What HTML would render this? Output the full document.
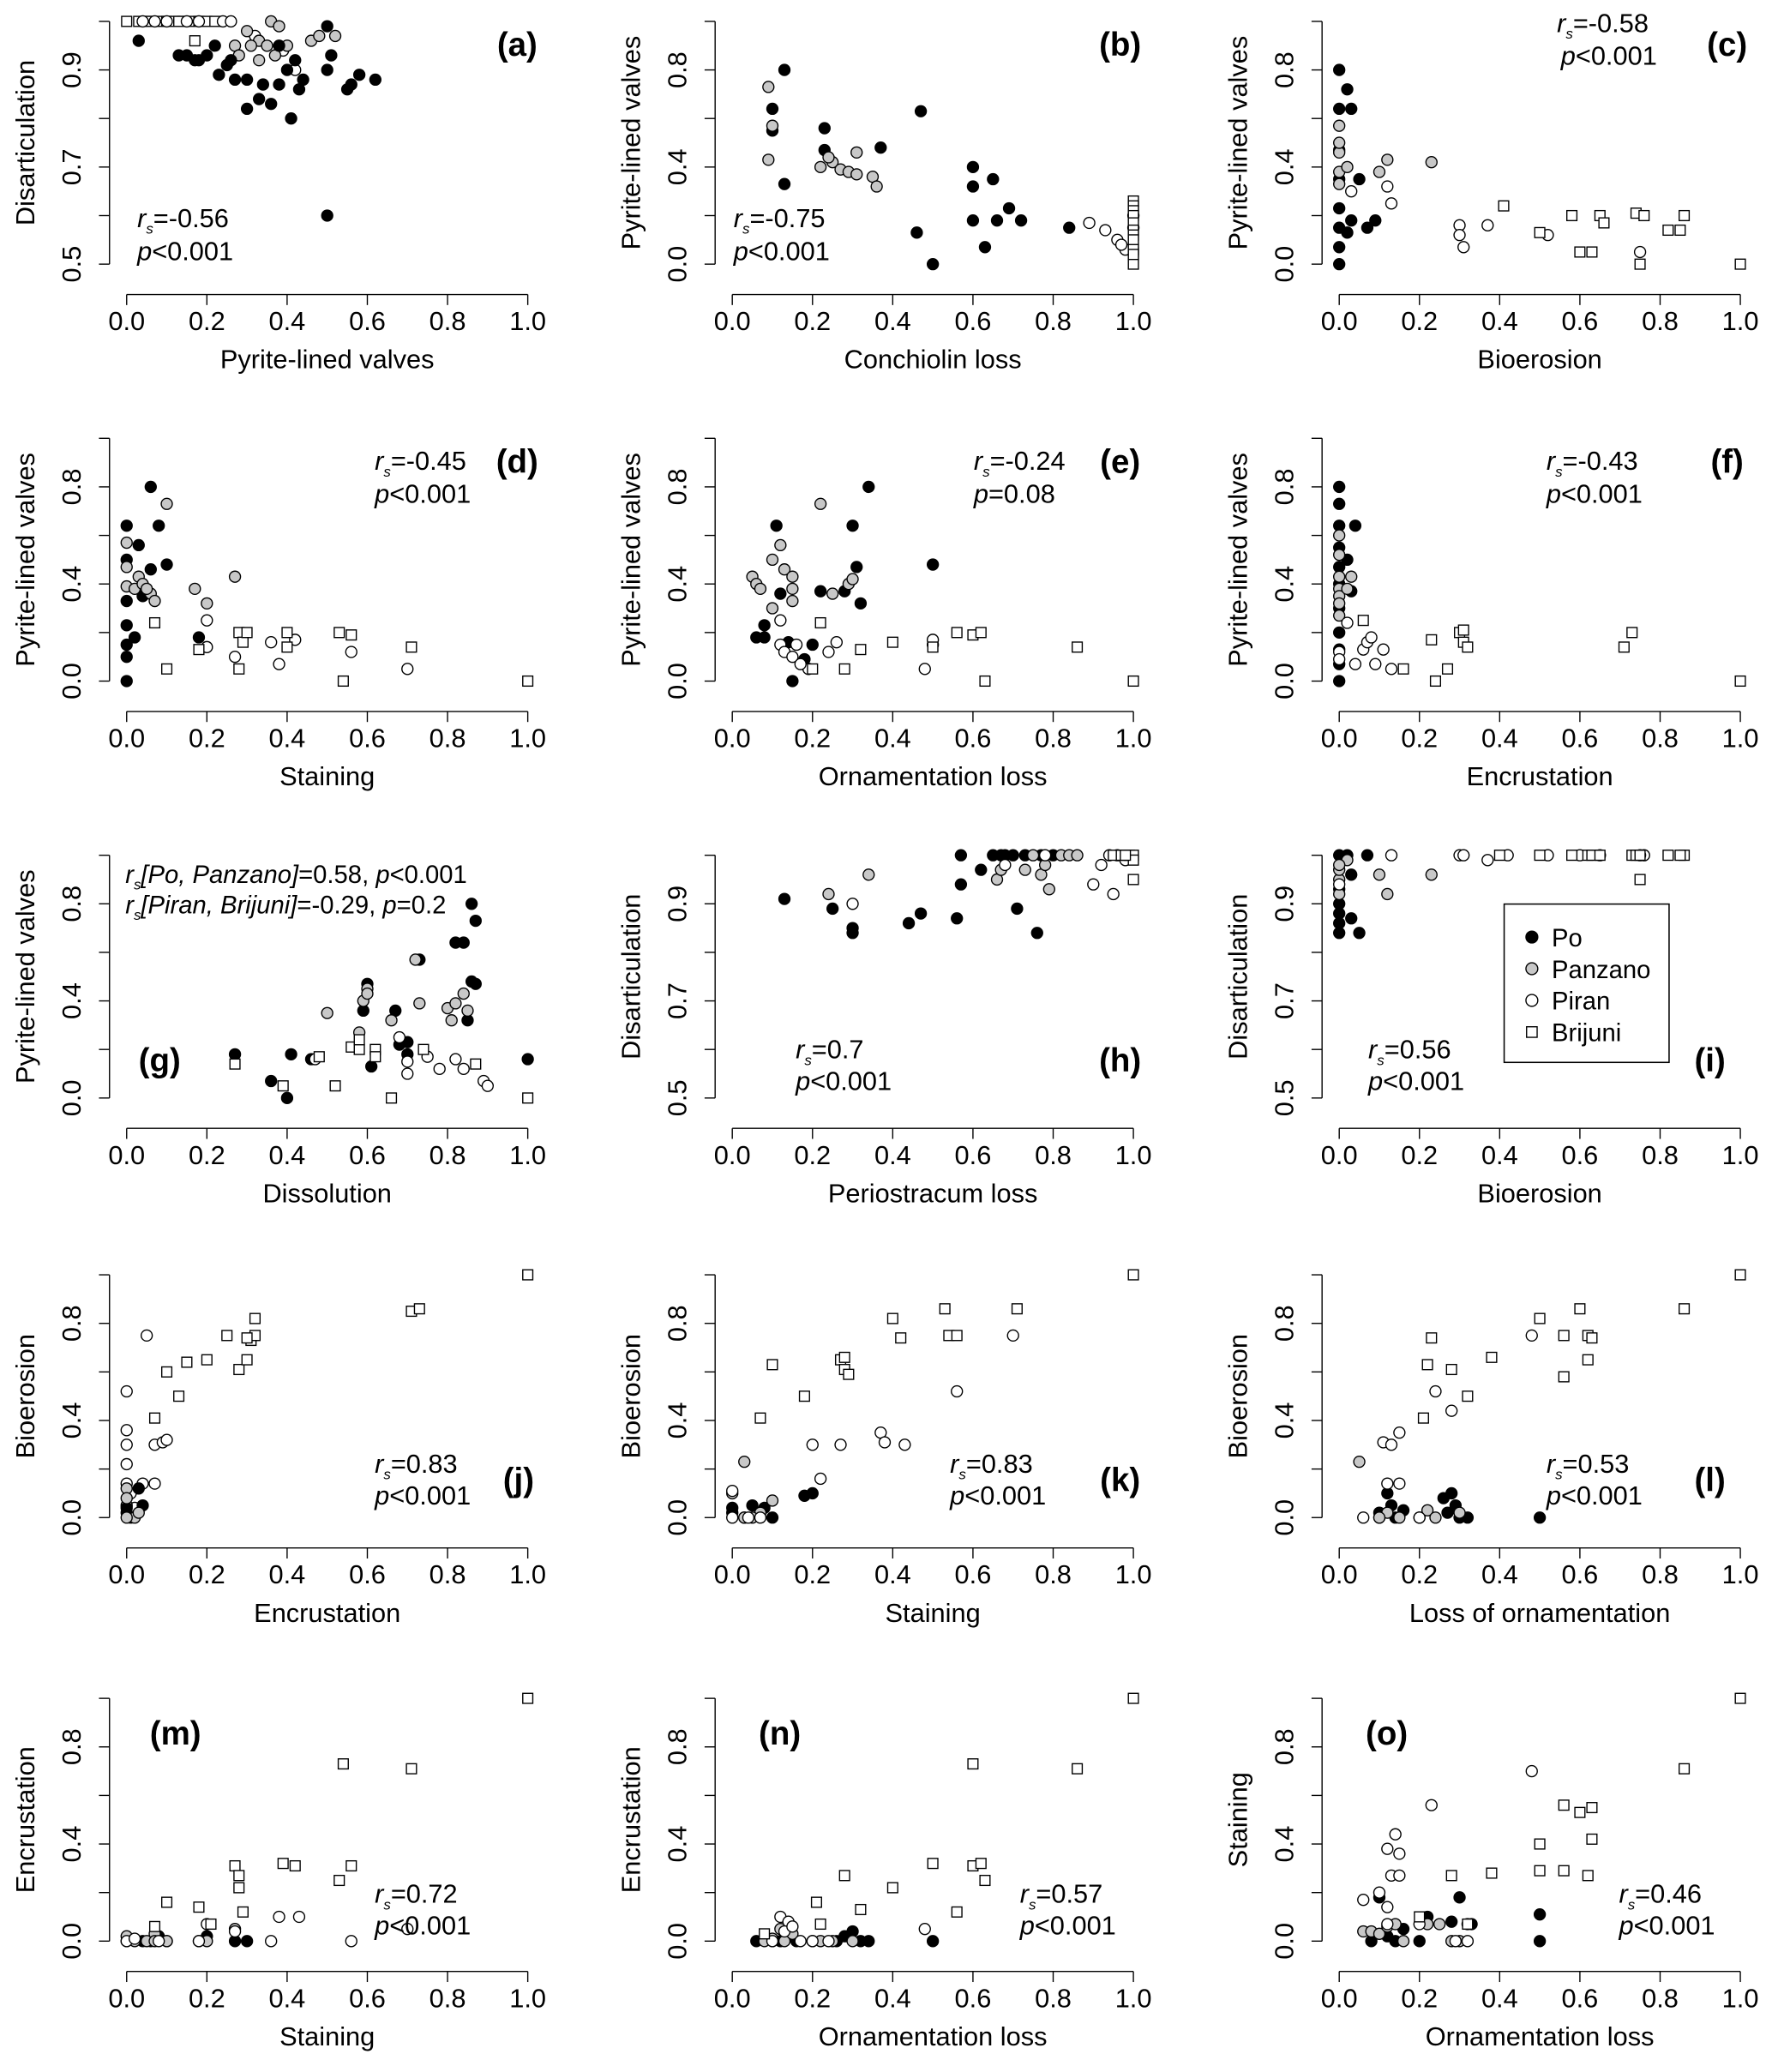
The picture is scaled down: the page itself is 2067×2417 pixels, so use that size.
<!DOCTYPE html>
<html><head><meta charset="utf-8"><style>
html,body{margin:0;padding:0;background:#fff}
svg{display:block}
text{font-family:"Liberation Sans",sans-serif;fill:#000}
</style></head><body>
<svg id="s" xmlns="http://www.w3.org/2000/svg" width="2067" height="2417" viewBox="0 0 1343 1570"></svg>
<script>
const S=document.getElementById('s');let h='';
const cols=[96,555,1015],rows=[200,516,832,1150,1471],W=304,H=184;
function T(x,y,s,o){o=o||{};h+=`<text x="${x}" y="${y}" font-size="${o.fs||20}" ${o.a?`text-anchor="${o.a}"`:''} ${o.b?'font-weight="bold"':''} ${o.tr?`transform="${o.tr}"`:''}>${s}</text>`;}
function rs(x,y,v){h+=`<text x="${x}" y="${y}" font-size="20"><tspan font-style="italic">r</tspan><tspan font-style="italic" font-size="11" dy="5">s</tspan><tspan dy="-5">=${v}</tspan></text>`;}
function pv(x,y,v){h+=`<text x="${x}" y="${y}" font-size="20"><tspan font-style="italic">p</tspan>${v}</text>`;}
function panel(c,r,xl,yl,ydis,pts,lab,lp){
 const x0=cols[c],b=rows[r],ax=x0-13,ay=b+23;
 h+=`<g stroke="#000" stroke-width="0.9" fill="none">`;
 h+=`<line x1="${x0}" y1="${ay}" x2="${x0+W}" y2="${ay}"/>`;
 for(let i=0;i<=5;i++){const x=x0+i*W/5;h+=`<line x1="${x}" y1="${ay}" x2="${x}" y2="${ay+8}"/>`;}
 h+=`<line x1="${ax}" y1="${b}" x2="${ax}" y2="${b-H}"/>`;
 const nt=ydis?6:6;
 for(let i=0;i<nt;i++){const y=b-i*H/5;h+=`<line x1="${ax}" y1="${y}" x2="${ax-8}" y2="${y}"/>`;}
 h+=`</g>`;
 for(let i=0;i<=5;i++)T(x0+i*W/5,b+50,(i/5).toFixed(1),{a:'middle'});
 const yls=ydis?[[0,'0.5'],[2,'0.7'],[4,'0.9']]:[[0,'0.0'],[2,'0.4'],[4,'0.8']];
 yls.forEach(([i,s])=>{const y=b-i*H/5;T(x0-35,y,s,{a:'middle',tr:`rotate(-90 ${x0-35} ${y})`});});
 T(x0+152,b+79,xl,{a:'middle'});
 T(x0-70,b-92,yl,{a:'middle',tr:`rotate(-90 ${x0-70} ${b-92})`});
 let out='';
 pts.forEach(([t,arr])=>{for(let i=0;i<arr.length;i+=2){let px=x0+arr[i]*W,v=arr[i+1];if(ydis)v=(v-0.5)/0.5;let py=b-v*H;
  if(t=='s')out+=`<rect x="${px-3.8}" y="${py-3.8}" width="7.6" height="7.6" fill="#fff" stroke="#000" stroke-width="0.9"/>`;
  else out+=`<circle cx="${px}" cy="${py}" r="4.2" fill="${t=='b'?'#000':t=='g'?'#c8c8c8':'#fff'}" stroke="#000" stroke-width="0.9"/>`;}});
 h+=out;
 T(lp[0],lp[1],lab,{b:1,fs:25,a:'middle'});
}
// (a)
panel(0,0,'Pyrite-lined valves','Disarticulation',1,[
['s',[0,1,.03,1,.06,1,.08,1,.1,1,.12,1,.14,1,.16,1,.18,1,.2,1,.22,1,.17,.96,.13,1,.05,1]],
['w',[.04,1,.07,1,.1,1,.15,1,.18,1,.24,1,.26,1,.39,.94,.42,.9,.32,.97]],
['g',[.3,.98,.33,.96,.35,.95,.36,1,.38,.99,.33,.92,.4,.95,.46,.96,.48,.97,.52,.97,.27,.95,.37,.93,.31,.95,.28,.93]],
['b',[.03,.96,.13,.93,.15,.93,.17,.92,.18,.92,.2,.93,.22,.95,.23,.89,.25,.91,.26,.92,.27,.88,.3,.82,.3,.88,.33,.84,.34,.87,.36,.83,.38,.87,.4,.9,.41,.8,.43,.86,.44,.88,.5,.99,.5,.9,.51,.93,.55,.86,.56,.87,.58,.89,.62,.88,.5,.6,.38,.95,.42,.92]]],'(a)',[392,42]);
rs(104,172,'-0.56');pv(104,197,'&lt;0.001');
// (b)
panel(1,0,'Conchiolin loss','Pyrite-lined valves',0,[
['b',[.13,.8,.1,.64,.1,.55,.13,.33,.23,.56,.23,.47,.37,.48,.47,.63,.46,.13,.5,0,.6,.4,.6,.18,.63,.07,.65,.35,.66,.18,.69,.23,.72,.18,.84,.15,.6,.32]],
['g',[.09,.73,.1,.57,.09,.43,.22,.4,.25,.42,.27,.39,.29,.38,.31,.46,.31,.37,.35,.36,.36,.32,.24,.44]],
['w',[.89,.17,.93,.14,.96,.1,.98,.06,1,.2,1,.15,.97,.08]],
['s',[1,.26,1,.24,1,.22,1,.2,1,.17,1,.14,1,.12,1,.1,1,.05,1,0,1,.06,1,.04]]],'(b)',[849,42]);
rs(556,172,'-0.75');pv(556,197,'&lt;0.001');
// (c)
panel(2,0,'Bioerosion','Pyrite-lined valves',0,[
['b',[0,.8,0,.64,0,.47,0,.35,0,.23,0,.15,0,.07,0,0,.02,.72,.03,.64,.05,.35,.03,.18,.02,.13,.07,.15,.09,.18]],
['g',[0,.57,0,.46,0,.38,0,.33,.02,.4,.1,.38,.12,.43,.23,.42,0,.5]],
['w',[.12,.32,.13,.25,.3,.16,.3,.12,.31,.07,.37,.16,.52,.12,.75,.05,.03,.3]],
['s',[.41,.24,.5,.13,.58,.2,.6,.05,.63,.05,.65,.2,.66,.17,.74,.21,.76,.2,.75,0,.82,.14,.85,.14,.86,.2,1,0]]],'(c)',[1309,42]);
rs(1180,24,'-0.58');pv(1183,49,'&lt;0.001');
// (d)
panel(0,1,'Staining','Pyrite-lined valves',0,[
['b',[0,.64,0,.5,0,.33,0,.23,0,.15,0,.1,0,0,.02,.18,.03,.56,.04,.35,.06,.8,.06,.46,.08,.64,.1,.48,.18,.18]],
['g',[0,.57,0,.47,0,.39,.02,.38,.03,.43,.04,.4,.06,.36,.07,.33,.1,.73,.17,.38,.2,.32,.27,.43,.05,.38]],
['w',[.2,.25,.2,.14,.27,.1,.36,.16,.38,.07,.42,.17,.56,.12,.7,.05]],
['s',[.07,.24,.1,.05,.18,.13,.28,.2,.29,.16,.28,.05,.3,.2,.4,.2,.4,.14,.53,.2,.56,.19,.54,0,.71,.14,1,0]]],'(d)',[392,358]);
rs(284,356,'-0.45');pv(284,381,'&lt;0.001');
// (e)
panel(1,1,'Ornamentation loss','Pyrite-lined valves',0,[
['b',[.08,.23,.08,.18,.06,.18,.11,.64,.12,.36,.14,.16,.15,0,.18,.09,.2,.15,.22,.37,.28,.37,.3,.64,.31,.47,.32,.32,.34,.8,.5,.48,.5,.15]],
['g',[.05,.43,.06,.4,.07,.38,.1,.5,.12,.56,.13,.46,.15,.38,.15,.43,.22,.73,.25,.36,.29,.4,.3,.42,.1,.3,.15,.33]],
['w',[.12,.25,.12,.15,.13,.12,.15,.1,.16,.15,.19,.05,.24,.12,.26,.16,.48,.05,.5,.17,.17,.07]],
['s',[.22,.24,.2,.05,.28,.05,.32,.13,.4,.16,.5,.14,.56,.2,.6,.19,.62,.2,.63,0,.86,.14,1,0]]],'(e)',[849,358]);
rs(738,356,'-0.24');pv(738,381,'=0.08');
// (f)
panel(2,1,'Encrustation','Pyrite-lined valves',0,[
['b',[0,.8,0,.73,0,.64,0,.55,0,.47,0,.4,0,.3,0,.2,0,.13,0,.07,0,0,.04,.64,.02,.5,.03,.37]],
['g',[0,.6,0,.52,0,.43,0,.38,0,.35,0,.32,0,.27,.03,.43,.02,.38]],
['w',[0,.12,0,.09,.02,.24,.06,.13,.07,.16,.08,.18,.09,.07,.11,.13,.13,.05,.04,.07]],
['s',[.06,.25,.16,.05,.23,.17,.24,0,.27,.05,.3,.2,.31,.16,.32,.14,.31,.21,.71,.14,.73,.2,1,0]]],'(f)',[1309,358]);
rs(1172,356,'-0.43');pv(1172,381,'&lt;0.001');
// (g)
panel(0,2,'Dissolution','Pyrite-lined valves',0,[
['b',[.27,.18,.36,.07,.4,0,.41,.18,.46,.16,.59,.36,.6,.47,.61,.13,.67,.36,.68,.22,.7,.18,.73,.57,.82,.64,.84,.64,.85,.32,.86,.8,.87,.73,.87,.47,.86,.48,1,.16,.7,.23]],
['g',[.5,.35,.58,.27,.59,.4,.6,.45,.6,.43,.66,.32,.72,.57,.73,.39,.8,.37,.81,.32,.82,.39,.84,.43,.85,.36]],
['w',[.47,.16,.68,.25,.7,.15,.7,.1,.78,.12,.82,.16,.84,.12,.89,.07,.9,.05,.75,.17]],
['s',[.27,.14,.39,.05,.48,.17,.52,.05,.56,.21,.58,.2,.58,.24,.62,.2,.62,.17,.66,0,.74,.2,.87,.14,1,0]]],'(g)',[121,812]);
h+=`<text x="95" y="669" font-size="19"><tspan font-style="italic">r</tspan><tspan font-style="italic" font-size="11" dy="5">s</tspan><tspan dy="-5" font-style="italic">[Po, Panzano]</tspan>=0.58, <tspan font-style="italic">p</tspan>&lt;0.001</text>`;
h+=`<text x="95" y="692" font-size="19"><tspan font-style="italic">r</tspan><tspan font-style="italic" font-size="11" dy="5">s</tspan><tspan dy="-5" font-style="italic">[Piran, Brijuni]</tspan>=-0.29, <tspan font-style="italic">p</tspan>=0.2</text>`;
// (h)
panel(1,2,'Periostracum loss','Disarticulation',1,[
['b',[.13,.91,.25,.89,.3,.85,.3,.84,.44,.86,.47,.88,.56,.87,.57,1,.57,.94,.65,1,.67,1,.68,1,.7,1,.71,.89,.73,1,.76,.84,.77,1,.8,1,.62,.97]],
['g',[.24,.92,.34,.96,.66,.95,.67,.97,.73,.97,.75,1,.77,.96,.78,.98,.79,.93,.82,1,.84,1,.86,1]],
['w',[.3,.9,.68,.98,.78,1,.92,.98,.94,1,.96,1,.98,.99,.9,.94,.95,.92]],
['s',[.95,1,.97,1,.99,1,1,1,1,.99,1,.95,.98,1]]],'(h)',[849,812]);
rs(603,802,'0.7');pv(603,826,'&lt;0.001');
// (i)
panel(2,2,'Bioerosion','Disarticulation',1,[
['b',[0,.84,0,.86,0,.88,0,.9,0,.93,0,1,.02,1,.03,.87,.05,.84,.07,1,.03,.96]],
['g',[0,.92,0,.95,0,.97,.02,.99,.1,.96,.12,.92,.23,.96,0,.98]],
['w',[.13,1,.3,1,.31,1,.37,.99,.42,1,.52,1,.6,1,.65,1,.76,1,.75,1,0,.94]],
['s',[.4,1,.5,1,.58,1,.62,1,.63,1,.65,1,.73,1,.74,1,.75,.95,.75,1,.82,1,.86,1,.85,1]]],'(i)',[1296,812]);
rs(1037,802,'0.56');pv(1037,826,'&lt;0.001');
// legend
h+=`<rect x="1140" y="685" width="125" height="120" fill="#fff" stroke="#000" stroke-width="1"/>`;
[['b','Po'],['g','Panzano'],['w','Piran'],['s','Brijuni']].forEach(([t,n],i)=>{const y=710+i*24;
 if(t=='s')h+=`<rect x="1157" y="${y-4}" width="8" height="8" fill="#fff" stroke="#000" stroke-width="0.9"/>`;
 else h+=`<circle cx="1161" cy="${y}" r="4.5" fill="${t=='b'?'#000':t=='g'?'#c8c8c8':'#fff'}" stroke="#000" stroke-width="0.9"/>`;
 T(1176,y+7,n,{fs:19});});
// (j)
panel(0,3,'Encrustation','Bioerosion',0,[
['w',[0,.52,0,.36,0,.3,0,.22,0,.14,.01,.1,.02,.04,.05,.75,.07,.3,.07,.14,.09,.31,.1,.32,.04,.14,0,.05]],
['b',[0,.04,0,.02,.04,.05,.01,0,.03,.12]],
['g',[0,.12,0,.08,.02,0,0,0,.03,.02]],
['s',[.07,.41,.1,.6,.13,.5,.15,.64,.2,.65,.25,.75,.28,.61,.3,.65,.31,.73,.32,.75,.32,.82,.71,.85,.73,.86,1,1,.3,.74]]],'(j)',[393,1130]);
rs(284,1116,'0.83');pv(284,1140,'&lt;0.001');
// (k)
panel(1,3,'Staining','Bioerosion',0,[
['b',[0,.04,0,.02,.03,0,.05,.05,.08,.04,.1,0,.18,.09,.2,.1]],
['g',[0,.1,.03,.23,.07,.02,.1,.07,.03,0,.05,0]],
['w',[0,.11,0,0,.04,0,.07,0,.2,.3,.22,.16,.27,.3,.37,.35,.38,.31,.43,.3,.56,.52,.7,.75]],
['s',[.07,.41,.1,.63,.18,.5,.27,.65,.28,.61,.28,.66,.29,.59,.4,.82,.42,.74,.53,.86,.54,.75,.56,.75,.71,.86,1,1]]],'(k)',[849,1130]);
rs(720,1116,'0.83');pv(720,1140,'&lt;0.001');
// (l)
panel(2,3,'Loss of ornamentation','Bioerosion',0,[
['b',[.1,.02,.12,.1,.13,.05,.14,0,.16,.03,.2,0,.26,.08,.28,.1,.29,.05,.3,0,.32,0,.5,0,.27,.02]],
['g',[.05,.23,.1,0,.12,.02,.15,0,.22,.03,.3,.02,.24,0,.1,0]],
['w',[.11,.31,.12,.14,.13,.3,.15,.14,.15,.35,.24,.52,.28,.44,.48,.75,.06,0,.2,0]],
['s',[.21,.41,.22,.63,.28,.61,.32,.5,.38,.66,.5,.82,.56,.75,.56,.58,.6,.86,.62,.75,.63,.74,.62,.65,.86,.86,1,1,.23,.74]]],'(l)',[1296,1130]);
rs(1172,1116,'0.53');pv(1172,1140,'&lt;0.001');
// (m)
panel(0,4,'Staining','Encrustation',0,[
['b',[0,0,.04,0,.06,0,.08,.02,.1,0,.18,0,.2,.02,.27,0,.3,0]],
['g',[0,.02,.02,0,.05,0,.07,.03,.1,0,.2,0,.27,.05,.07,0]],
['w',[0,0,.02,.01,.08,0,.18,0,.2,.07,.27,.04,.36,0,.38,.1,.43,.1,.56,0,.7,.05]],
['s',[.07,.06,.1,.16,.18,.14,.21,.07,.27,.31,.28,.27,.28,.22,.29,.12,.39,.32,.42,.31,.53,.25,.56,.31,.54,.73,.71,.71,1,1]]],'(m)',[133,1322]);
rs(284,1442,'0.72');pv(284,1466,'&lt;0.001');
// (n)
panel(1,4,'Ornamentation loss','Encrustation',0,[
['b',[.06,0,.1,0,.12,0,.14,.02,.16,0,.2,0,.26,0,.28,.02,.3,.04,.32,0,.34,0,.5,0]],
['g',[.08,0,.1,.01,.13,0,.15,.03,.22,0,.25,0,.3,0,.12,.05]],
['w',[.12,.1,.14,.08,.13,.04,.15,.06,.17,0,.2,0,.24,0,.48,.05,.1,0]],
['s',[.08,.03,.21,.16,.22,.07,.28,.27,.32,.13,.4,.22,.5,.32,.56,.12,.6,.73,.6,.31,.62,.32,.63,.25,.86,.71,1,1]]],'(n)',[591,1322]);
rs(773,1442,'0.57');pv(773,1466,'&lt;0.001');
// (o)
panel(2,4,'Ornamentation loss','Staining',0,[
['b',[.08,0,.1,.18,.12,.02,.14,0,.16,.05,.2,0,.22,.1,.28,.08,.3,.18,.32,.07,.33,.07,.5,.11,.5,0]],
['g',[.06,.04,.08,.04,.1,.03,.12,.06,.14,.07,.16,0,.22,.07,.25,.07,.28,0,.3,0]],
['w',[.06,.17,.1,.2,.12,.38,.13,.27,.14,.44,.15,.36,.15,.27,.12,.14,.23,.56,.48,.7,.12,.07,.2,.07,.29,0,.32,0]],
['s',[.2,.1,.28,.27,.32,.07,.38,.28,.5,.4,.5,.29,.56,.56,.56,.29,.6,.53,.62,.27,.63,.55,.63,.42,.86,.71,1,1]]],'(o)',[1051,1322]);
rs(1227,1442,'0.46');pv(1227,1466,'&lt;0.001');
S.innerHTML=h;
</script>
</body></html>
